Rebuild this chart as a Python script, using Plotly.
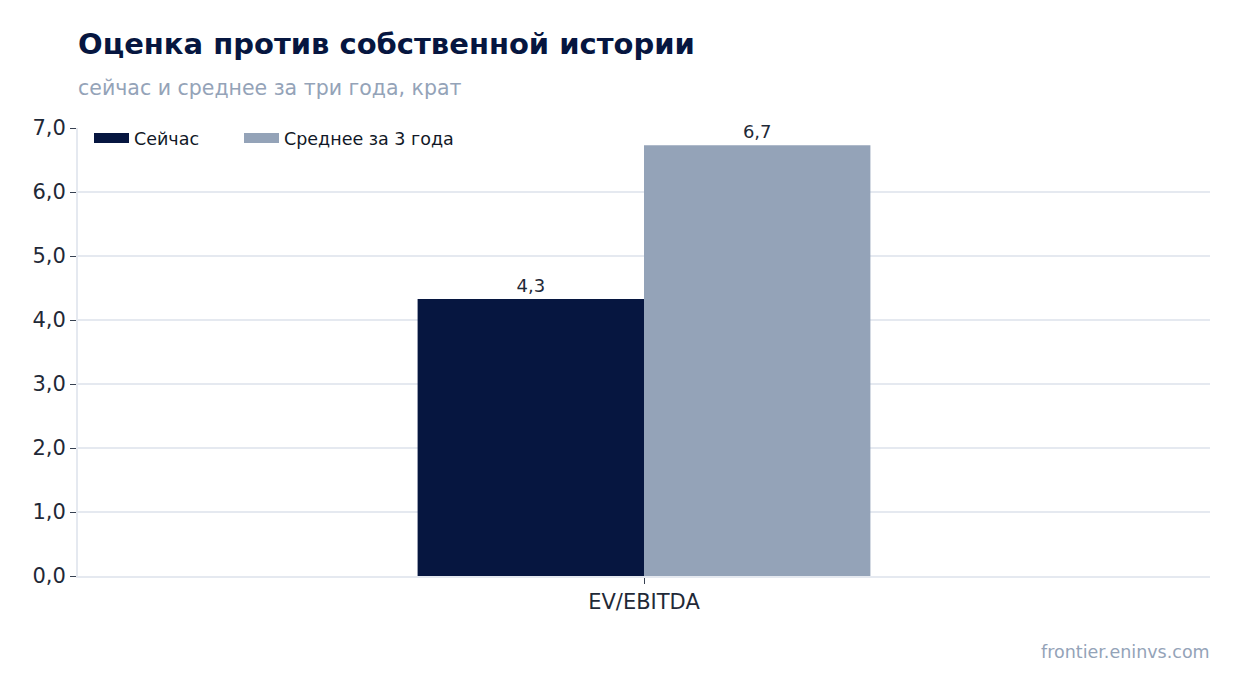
import plotly.graph_objects as go

# Данные
categories = ["EV/EBITDA"]
now_values = [4.33]
avg3y_values = [6.73]
series_names = ["Сейчас", "Среднее за 3 года"]

navy = "#061640"
grey = "#94a3b8"
font = "DejaVu Sans"

# страница рисуется со сдвигом 8px (отступ body), поэтому поля чуть меньше
ml, mr, mt, mb = 70, 38, 120, 125
plot_w = 1240 - ml - mr
plot_h = 693 - mt - mb

fig = go.Figure()
for name, vals, col, leg in [(series_names[0], now_values, navy, "legend"),
                             (series_names[1], avg3y_values, grey, "legend2")]:
    fig.add_trace(go.Bar(x=categories, y=vals, name=name,
                         marker=dict(color=col, line=dict(width=0)),
                         texttemplate="%{y:.1f}", textposition="outside",
                         cliponaxis=False, showlegend=False,
                         textfont=dict(size=18, color="#1f2937")))
    # легенда с широкими прямоугольниками
    fig.add_trace(go.Scatter(x=[None], y=[None], mode="lines", name=name,
                             line=dict(color=col, width=12), legend=leg))

leg_style = dict(orientation="h", y=1 - 10 / plot_h, xanchor="left", yanchor="middle",
                 bgcolor="rgba(0,0,0,0)", font=dict(size=17.5, color="#111827"),
                 itemwidth=35)

fig.update_layout(
    width=1240, height=693,
    barmode="group", bargap=0.6, bargroupgap=0,
    separators=", ",
    font=dict(family=font, color="#1f2937"),
    plot_bgcolor="white", paper_bgcolor="white",
    margin=dict(l=ml, r=mr, t=mt, b=mb),
    title=dict(text="<b>Оценка против собственной истории</b>",
               x=ml / 1240, xanchor="left", y=1 - 36 / 693, yanchor="middle",
               font=dict(size=29, color=navy, family=font)),
    legend=dict(x=(89 - 78) / plot_w, **leg_style),
    legend2=dict(x=(239 - 78) / plot_w, **leg_style),
)

fig.update_yaxes(range=[0, 7], dtick=1, tickformat=".1f",
                 showgrid=True, gridcolor="#e5e9f0", gridwidth=2,
                 showline=True, linecolor="#e5e9f0", linewidth=2,
                 zeroline=False, ticks="outside", ticklen=6, tickcolor="#374151",
                 tickfont=dict(size=21, color="#1f2937"))
fig.update_xaxes(showline=True, linecolor="#e5e9f0", linewidth=2,
                 ticks="outside", ticklen=6, tickcolor="#374151",
                 tickfont=dict(size=21, color="#1f2937"))

fig.add_annotation(text="сейчас и среднее за три года, крат",
                   xref="paper", yref="paper", x=0, y=1 + (mt - 80) / plot_h,
                   xanchor="left", yanchor="middle", showarrow=False, xshift=-2,
                   font=dict(size=20.5, color=grey, family=font))
fig.add_annotation(text="frontier.eninvs.com",
                   xref="paper", yref="paper", x=1, y=-(644 - (693 - mb)) / plot_h,
                   xanchor="right", yanchor="middle", showarrow=False, xshift=2,
                   font=dict(size=17.5, color=grey, family=font))

fig.write_html("out.html")
